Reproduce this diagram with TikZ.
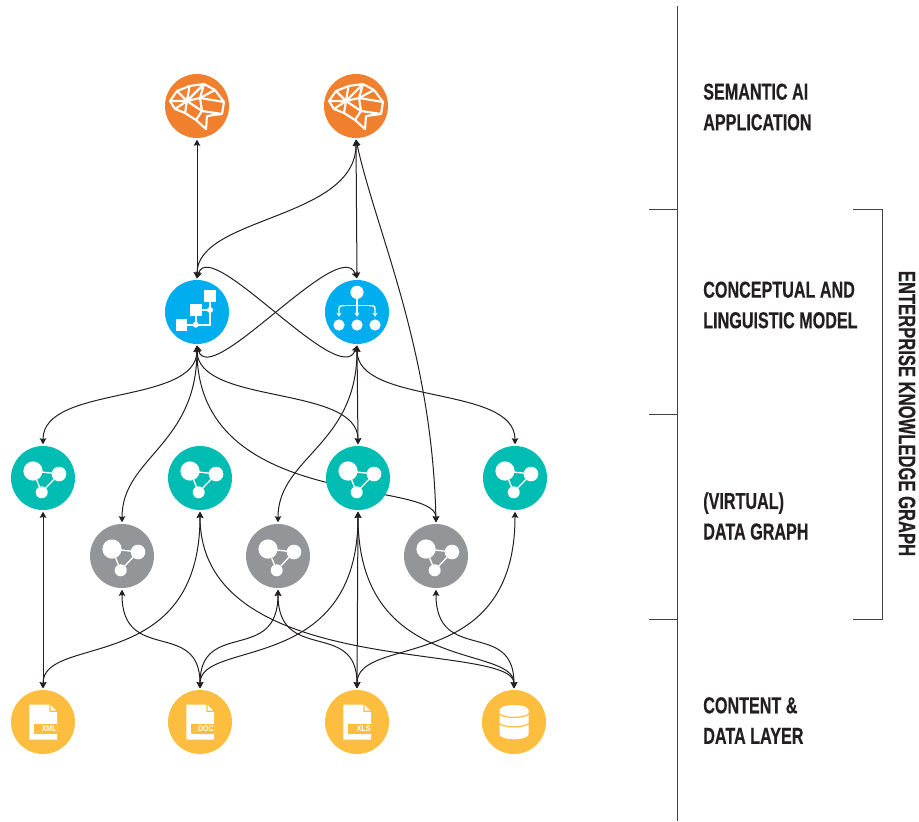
\documentclass[tikz,border=0pt]{standalone}
\usepackage{fontspec}
\usepackage{tikz}
\usetikzlibrary{arrows.meta}
\usetikzlibrary{backgrounds}
\newfontfamily\layerfont[FakeStretch=0.70,FakeBold=0.5,UprightFont=* Bold]{Liberation Sans}
\newfontfamily\tagfont[FakeStretch=0.85,UprightFont=* Bold]{Liberation Sans}
\definecolor{appcolor}{HTML}{F07F2E}
\definecolor{modelcolor}{HTML}{00AEEF}
\definecolor{datacolor}{HTML}{00BDB4}
\definecolor{virtcolor}{HTML}{939598}
\definecolor{srccolor}{HTML}{FDBD3F}
\definecolor{inkcolor}{HTML}{231F20}
\tikzset{
	brainicon/.pic={
		\draw[white, line width=1.6pt, line join=round]
			(-27,-5)--(-20,-15)--(-7.5,-20)--(7,-22)--(18,-16)--(27,-4)--(25,8)--(10,10)--(9,23)--(-1,14)--(-12,7)--(-22,3)--cycle
			(-27,-5)--(-10,-5)--(-20,-15) (-7.5,-20)--(-10,-5)--(7,-22)--(3,-8)--(18,-16) (27,-4)--(3,-8)--(-10,-5)
			(-22,3)--(-10,-5)--(-12,7) (3,-8)--(5,5)--(25,8) (5,5)--(-1,14) (5,5)--(-10,-5);
	},
	flowicon/.pic={
		\draw[white, line width=1.4pt] (-15.7,12.7)--(13,12.7)--(13,-16) (-1.3,-2)--(-1.3,12.7) (-1.3,-2)--(13,-2);
		\fill[white] (13,-16) +(-5.8,-5.8) rectangle +(5.8,5.8);
		\fill[white] (-1.3,-2) +(-5.8,-5.8) rectangle +(5.8,5.8);
		\fill[white] (-15.7,12.7) +(-5.8,-5.8) rectangle +(5.8,5.8);
		\fill[white] (-1.3,12.7) circle (3);
		\fill[white] (13,-2) circle (3);
	},
	treeicon/.pic={
		\fill[white] (0,-19.7) circle (6.6);
		\fill[white] (-18,13) circle (5.6);
		\fill[white] (0,13) circle (5.6);
		\fill[white] (18,13) circle (5.6);
		\draw[white, line width=1pt] (0,-19.7)--(0,-6.3);
		\draw[white, line width=1pt, -{Stealth[length=3pt,width=4pt,open]}, rounded corners=2pt] (-12,-6.3)--(-18,-6.3)--(-18,4.7);
		\draw[white, line width=1pt, -{Stealth[length=3pt,width=4pt,open]}, rounded corners=2pt] (12,-6.3)--(18,-6.3)--(18,4.7);
		\draw[white, line width=1pt, -{Stealth[length=3pt,width=4pt,open]}] (0,-6.3)--(0,4.7);
		\draw[white, line width=1pt] (-12,-6.3)--(12,-6.3);
	},
	graphicon/.pic={
		\draw[white, line width=1pt] (-10,-7)--(16,-4)--(-1.3,14.3)--cycle;
		\fill[white] (-10,-7) circle (9.6);
		\fill[white] (16,-4) circle (7.3);
		\fill[white] (-1.3,14.3) circle (6);
	},
	fileicon/.pic={
		\fill[white] (-13.7,-17.3)--(6.3,-17.3)--(6.3,-10)--(14,-10)--(14,17.7)--(-13.7,17.7)--cycle;
		\fill[white] (7.7,-17)--(13.4,-11.3)--(7.7,-11.3)--cycle;
		\fill[srccolor] (-9.3,2) rectangle (14,12);
		\node (-tag) [anchor=east, inner sep=0, text=white, font=\tagfont\fontsize{6.2}{7}\selectfont] at (13.9,7) {#1};
	},
	dbicon/.pic={
		\fill[white] (-14.5,-12) arc[start angle=180, end angle=360, x radius=14.5, y radius=5]
			--(14.5,12.3) arc[start angle=0, end angle=180, x radius=14.5, y radius=5]--cycle;
		\draw[srccolor, line width=.9pt] (-15,-8) .. controls (-9,-3.5) and (9,-3.5) .. (15,-8);
		\draw[srccolor, line width=.9pt] (-15,1.5) .. controls (-9,6) and (9,6) .. (15,1.5);
	},
}
\begin{document}
\begin{tikzpicture}[x=0.75pt, y=-0.75pt, >={Stealth[length=4.6pt,width=4.8pt,inset=0.6pt]},
		round/.style={circle, minimum size=48pt, inner sep=0pt, outer sep=1.2pt},
		app/.style={round, fill=appcolor},
		model/.style={round, fill=modelcolor},
		data/.style={round, fill=datacolor},
		virt/.style={round, fill=virtcolor},
		src/.style={round, fill=srccolor},
		link/.style={<->, inkcolor, line width=0.75pt},
		rule/.style={inkcolor!85, line width=0.75pt},
		layer/.style={anchor=west, align=left, inner sep=0pt, text=inkcolor, font=\layerfont\fontsize{17.3}{22.9}\selectfont}]
	\useasboundingbox (0,0) rectangle (919,821);
			\node[app] (app1) at (197,106) {};
			\node[app] (app2) at (356,106) {};
			\node[model] (model1) at (197,312) {};
			\node[model] (model2) at (357,312) {};
			\node[data] (data1) at (43,478) {};
			\node[data] (data2) at (200,478) {};
			\node[data] (data3) at (358,478) {};
			\node[data] (data4) at (515,478) {};
			\node[virt] (virt1) at (122,556) {};
			\node[virt] (virt2) at (278,556) {};
			\node[virt] (virt3) at (436,556) {};
			\node[src] (xml) at (43,722) {};
			\node[src] (doc) at (200,722) {};
			\node[src] (xls) at (357,722) {};
			\node[src] (base) at (514,722) {};
			\pic (brain1) at (app1) {brainicon};
			\pic (brain2) at (app2) {brainicon};
			\pic (flow) at (model1) {flowicon};
			\pic (tree) at (model2) {treeicon};
			\pic (graph1) at (data1) {graphicon};
			\pic (graph2) at (data2) {graphicon};
			\pic (graph3) at (data3) {graphicon};
			\pic (graph4) at (data4) {graphicon};
			\pic (graph5) at (virt1) {graphicon};
			\pic (graph6) at (virt2) {graphicon};
			\pic (graph7) at (virt3) {graphicon};
			\pic (xmlfile) at (xml) {fileicon=XML};
			\pic (docfile) at (doc) {fileicon=DOC};
			\pic (xlsfile) at (xls) {fileicon=XLS};
			\pic (basefile) at (base) {dbicon};
		\begin{scope}[on background layer]
			\draw[link] (app1.south)--(model1.north);
			\draw[link] (app2.south)--(model2.north);
			\draw[link] (app2.south) .. controls +(0,80) and +(0,-62) .. (model1.north);
			\draw[link] (app2.south) .. controls +(20,92) and +(-4,-174) .. (virt3.north);
			\draw[link] (model1.north) .. controls +(13,-44) and +(-17,45) .. (model2.south);
			\draw[link] (model1.south) .. controls +(13,45) and +(-17,-44) .. (model2.north);
			\draw[link] (model1.south) .. controls +(0,60) and +(0,-60) .. (data1.north);
			\draw[link] (model1.south) .. controls +(0,100) and +(0,-65) .. (virt1.north);
			\draw[link] (model1.south) .. controls +(0,60) and +(0,-60) .. (data3.north);
			\draw[link] (model1.south) .. controls +(0,166) and +(0,-44) .. (virt3.north);
			\draw[link] (model2.south)--(data3.north);
			\draw[link] (model2.south) .. controls +(0,100) and +(0,-65) .. (virt2.north);
			\draw[link] (model2.south) .. controls +(0,60) and +(0,-60) .. (data4.north);
			\draw[link] (data1.south)--(xml.north);
			\draw[link] (data2.south) .. controls +(0,165) and +(0,-55) .. (xml.north);
			\draw[link] (data2.south) .. controls +(0,170) and +(0,-48) .. (base.north);
			\draw[link] (data3.south) .. controls +(0,165) and +(0,-50) .. (doc.north);
			\draw[link] (data3.south)--(xls.north);
			\draw[link] (data3.south) .. controls +(0,165) and +(0,-45) .. (base.north);
			\draw[link] (data4.south) .. controls +(0,165) and +(0,-55) .. (xls.north);
			\draw[link] (virt1.south) .. controls +(0,75) and +(0,-70) .. (doc.north);
			\draw[link] (virt2.south) .. controls +(0,75) and +(0,-70) .. (doc.north);
			\draw[link] (virt2.south) .. controls +(0,75) and +(0,-70) .. (xls.north);
			\draw[link] (virt3.south) .. controls +(0,75) and +(0,-70) .. (base.north);
		\end{scope}
			\coordinate (ruletop) at (677,6);
			\coordinate (rulebot) at (677,821);
			\draw[rule] (ruletop)--(rulebot);
			\draw[rule] (649,209)--(677,209);
			\draw[rule] (649,414)--(677,414);
			\draw[rule] (649,619)--(677,619);
			\draw[rule] (853,209)--(882,209)--(882,619)--(853,619);
			\node[layer] (applabel) at (703,107) {SEMANTIC AI\\APPLICATION};
			\node[layer] (modellabel) at (703,305) {CONCEPTUAL AND\\LINGUISTIC MODEL};
			\node[layer] (datalabel) at (703,516) {(VIRTUAL)\\DATA GRAPH};
			\node[layer] (srclabel) at (703,720.5) {CONTENT \&\\DATA LAYER};
			\node[layer, anchor=center, rotate=-90, font=\layerfont\fontsize{17.8}{22.9}\selectfont] (kglabel) at (907,413.5) {ENTERPRISE KNOWLEDGE GRAPH};
\end{tikzpicture}
\end{document}
